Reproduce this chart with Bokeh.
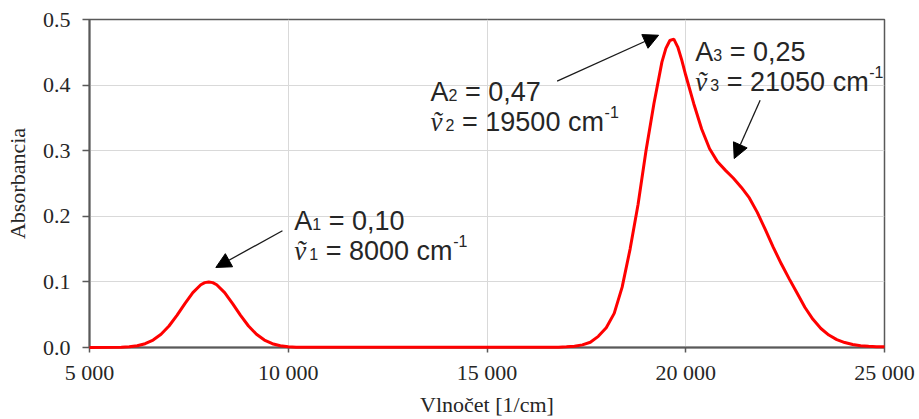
from bokeh.plotting import figure
from bokeh.models import Range1d, FixedTicker, Label, Arrow, NormalHead, NumeralTickFormatter
from bokeh.embed import file_html
from bokeh.resources import INLINE

# ---- data ----
wavenumber = [5000, 5800, 6000, 6200, 6400, 6600, 6800, 7000, 7200, 7400, 7600, 7800, 7900,
              8000, 8100, 8200, 8400, 8600, 8800, 9000, 9200, 9400, 9600, 9800, 10000, 10200,
              16800, 17000, 17200, 17400, 17600, 17800, 18000, 18200, 18400, 18600, 18800,
              19000, 19200, 19400, 19500, 19600, 19700, 19800, 19900, 20000, 20200, 20400,
              20600, 20800, 21000, 21200, 21400, 21600, 21800, 22000, 22200, 22400, 22600,
              22800, 23000, 23200, 23400, 23600, 23800, 24000, 24200, 24400, 24600, 24800, 25000]
absorbance = [0.0, 0.0004, 0.0012, 0.0027, 0.0058, 0.0113, 0.0201, 0.0328, 0.0490, 0.0670, 0.0837, 0.0956, 0.0989,
              0.1000, 0.0989, 0.0956, 0.0837, 0.0670, 0.0490, 0.0328, 0.0201, 0.0113, 0.0058, 0.0027, 0.0012, 0.0004,
              0.0004, 0.001, 0.002, 0.004, 0.008, 0.017, 0.030, 0.052, 0.092, 0.150, 0.218,
              0.300, 0.372, 0.435, 0.456, 0.468, 0.470, 0.458, 0.438, 0.415, 0.372, 0.333,
              0.303, 0.283, 0.270, 0.258, 0.244, 0.228, 0.206, 0.180, 0.153, 0.128, 0.105,
              0.083, 0.061, 0.043, 0.029, 0.019, 0.012, 0.0075, 0.0045, 0.0028, 0.0018, 0.0012, 0.001]

x_ticks = [5000, 10000, 15000, 20000, 25000]
x_tick_labels = ["5 000", "10 000", "15 000", "20 000", "25 000"]
y_ticks = [0.0, 0.1, 0.2, 0.3, 0.4, 0.5]

peak_values = ["0,10", "0,47", "0,25"]
peak_positions = ["8000", "19500", "21050"]
peak_indices = ["1", "2", "3"]

x_title = "Vlnočet [1/cm]"
y_title = "Absorbancia"

# ---- figure ----
p = figure(width=919, height=419, output_backend="svg", toolbar_location=None,
           x_range=Range1d(5000, 25000), y_range=Range1d(0, 0.5),
           min_border_left=89, min_border_right=35, min_border_top=19, min_border_bottom=72,
           background_fill_color="white", border_fill_color="white")

p.outline_line_color = "#595959"
p.outline_line_width = 1.5

r = p.line(wavenumber, absorbance, line_color="#ff0000", line_width=3)
r.level = "overlay"

serif = "Liberation Serif"
tick_color = "#262626"

p.xaxis.ticker = FixedTicker(ticks=x_ticks)
p.xaxis.major_label_overrides = dict(zip(x_ticks, x_tick_labels))
p.yaxis.ticker = FixedTicker(ticks=y_ticks)
p.yaxis.formatter = NumeralTickFormatter(format="0.0")

for ax in (p.xaxis[0], p.yaxis[0]):
    ax.axis_line_color = "#595959"
    ax.axis_line_width = 2
    ax.major_tick_line_color = "#595959"
    ax.major_tick_line_width = 1.5
    ax.major_tick_in = 0
    ax.minor_tick_line_color = None
    ax.major_label_text_font = serif
    ax.major_label_text_font_size = "22px"
    ax.major_label_text_color = tick_color
    ax.axis_label_text_font = serif
    ax.axis_label_text_font_size = "22px"
    ax.axis_label_text_font_style = "normal"
    ax.axis_label_text_color = tick_color

p.xaxis.major_tick_out = 5
p.yaxis.major_tick_out = 7
p.xaxis.major_label_standoff = 7
p.yaxis.major_label_standoff = 12
p.xaxis.axis_label = x_title
p.yaxis.axis_label = y_title
p.xaxis.axis_label_standoff = 4
p.yaxis.axis_label_standoff = 10

p.xgrid.grid_line_color = "#d9d9d9"
p.ygrid.grid_line_color = "#d9d9d9"
p.xgrid.grid_line_width = 1
p.ygrid.grid_line_width = 1

# ---- annotations ----
sans = "Liberation Sans"
txt_color = "#262626"
main_size = "27px"
small_size = "16px"

# anchor (data coords) for each annotation block: x, baseline of first line, baseline of second line
anchors = [(10150, 0.1935, 0.1477), (13580, 0.3894, 0.3436), (20240, 0.4505, 0.4047)]


def lab(x, y, text, xo=0, yo=0, size=main_size, font=sans, style="normal"):
    p.add_layout(Label(x=x, y=y, text=text, x_offset=xo, y_offset=yo,
                       text_font=font, text_font_size=size, text_font_style=style,
                       text_color=txt_color, text_baseline="alphabetic", text_align="left"))


for (ax_, y1, y2), idx, val, pos in zip(anchors, peak_indices, peak_values, peak_positions):
    # first line: A_i = value
    lab(ax_, y1, "A")
    lab(ax_, y1, idx, xo=18, yo=-3, size=small_size)
    lab(ax_, y1, "= " + val, xo=34.5)
    # second line: v~_i = position cm^-1
    lab(ax_, y2, "ṽ", font=serif, style="italic")
    lab(ax_, y2, idx, xo=15, yo=-3, size=small_size)
    lab(ax_, y2, "= " + pos + " cm", xo=31.5)
    sup_x = 159 + 15 * (len(pos) - 4)
    lab(ax_, y2, "-1", xo=sup_x, yo=10, size=small_size)

arrows = [((9854, 0.178), (8178, 0.122)),
          ((16764, 0.406), (19317, 0.476)),
          ((21872, 0.377), (21219, 0.288))]
for (xs, ys), (xe, ye) in arrows:
    p.add_layout(Arrow(end=NormalHead(size=15, fill_color="black", line_color="black", line_width=1),
                       x_start=xs, y_start=ys, x_end=xe, y_end=ye,
                       line_color="#1a1a1a", line_width=1.3))

open("out.html", "w").write(file_html(p, INLINE))
